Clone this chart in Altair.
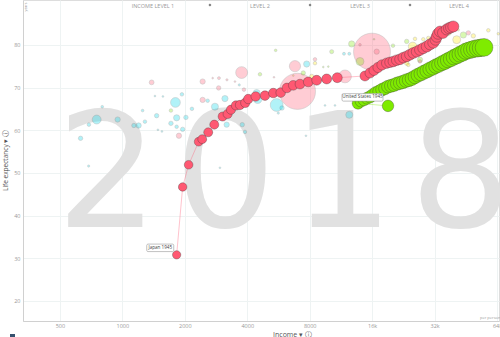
import altair as alt
import pandas as pd

# ---------------- data ----------------
# Japan trail 1945 -> 2018 (income per person, life expectancy, population in millions)
jp_income = [1827, 1953, 2087, 2333, 2427, 2594, 2774, 3044, 3218, 3339, 3529, 3689, 3913, 4045,
             4392, 4870, 5340, 5797, 6216, 6667, 7182, 7874, 8645, 9660, 10866, 14776, 15625,
             16335, 17075, 17850, 18806, 19506, 20236, 21014, 21800, 22613, 23475, 24355, 25265,
             26240, 27210, 28230, 29325, 30420, 31550, 32335, 32765, 33240, 33990, 35140, 36600,
             37550, 38400, 39400]
jp_life = [30.8, 46.7, 51.9, 57.3, 57.9, 59.5, 61.3, 63.2, 63.8, 64.8, 65.8, 65.9, 66.4, 67.3,
           67.9, 68.1, 68.7, 68.8, 69.9, 70.5, 70.8, 71.3, 71.7, 72.0, 72.3, 72.7, 73.4, 74.0,
           74.7, 75.3, 75.7, 75.9, 76.1, 76.4, 76.6, 77.0, 77.3, 77.7, 78.1, 78.4, 78.8, 79.2,
           79.6, 80.1, 80.5, 81.2, 81.9, 82.6, 83.1, 82.8, 83.6, 83.9, 84.1, 84.3]
jp_pop = [72, 75, 78, 80, 82, 84, 85, 86, 87, 88, 89, 90, 91, 92, 93, 94, 95, 96, 97, 98, 99,
          100, 101, 102, 103, 104, 105, 107, 109, 111, 113, 115, 116, 117, 118, 119, 120, 121,
          122, 123, 124, 125, 126, 126, 127, 127, 128, 128, 128, 128, 127, 127, 127, 127]

# United States trail 1945 -> 2018
us_income = [19080, 13673, 14137, 14620, 15115, 15625, 16150, 16700, 17265, 17850, 18455, 19080,
             19725, 20395, 21085, 21800, 22535, 23300, 24090, 24905, 25745, 26615, 27515, 28460,
             29425, 30420, 31445, 32510, 33610, 34750, 35925, 37140, 38395, 39695, 41040, 42435,
             43865, 45350, 46885, 48475, 50100, 51850, 53600, 55400]
us_life = [65.7, 66.3, 66.8, 67.1, 67.5, 67.8, 68.3, 68.8, 69.1, 69.5, 69.8, 70.2, 70.4, 70.6,
           70.9, 71.1, 71.3, 71.6, 71.8, 72.1, 72.5, 72.9, 73.2, 73.6, 73.9, 74.3, 74.6, 75.0,
           75.3, 75.7, 76.0, 76.4, 76.7, 77.1, 77.4, 77.8, 78.1, 78.5, 78.7, 78.9, 79.1, 79.2,
           79.3, 79.4]
us_pop = [140, 141, 144, 147, 150, 153, 156, 159, 162, 165, 168, 171, 174, 177, 180, 183, 186,
          189, 192, 195, 198, 201, 204, 207, 210, 214, 218, 222, 226, 230, 236, 242, 248, 254,
          260, 267, 274, 282, 290, 298, 306, 314, 321, 327]

# other countries in 2018 (faded)
bg_region = (["africa"] * 43 + ["asia"] * 21 + ["americas"] * 14 + ["europe"] * 17)
bg_income = [752, 690, 800, 949, 629, 688, 1137, 1198, 1285, 1252, 1436, 1569, 1803, 1937, 1463,
             1827, 1715, 2025, 2165, 1484, 1552, 1827, 1953, 2578, 2795, 3123, 3183, 3784, 3899,
             2954, 7675, 9481, 10592, 12415, 5544, 5882, 5645, 4490, 3661, 7737, 11705, 12415, 4441,
             1384, 2438, 2438, 2725, 2922, 2912, 3193, 3490, 3856, 3758, 1874, 5382, 6793, 6986,
             15975, 8484, 11835, 16827, 27210, 46525, 13980,
             1715, 4607, 5483, 7450, 9304, 10212, 12747, 16335, 20168, 23475, 44023, 27210, 9835, 13980,
             8484, 8180, 6667, 7590, 19506, 23475, 23900, 25100, 25745, 28230, 37140, 40900, 49185,
             58100, 64900, 41650, 29840]
bg_life = [62.5, 61.3, 65.5, 62.5, 58.1, 51.6, 61.1, 61.1, 62.0, 64.6, 68.0, 67.9, 66.5, 68.4, 63.4,
           62.9, 61.6, 63.0, 65.0, 60.1, 59.7, 60.8, 60.2, 66.9, 65.5, 67.4, 61.3, 61.3, 59.6,
           51.2, 58.7, 65.8, 65.8, 63.6, 65.9, 65.2, 64.0, 67.3, 70.6, 75.5, 77.9, 77.9, 68.7,
           71.2, 71.4, 67.1, 72.2, 72.2, 69.9, 71.8, 71.4, 69.5, 73.5, 58.7, 72.4, 75.0, 69.1,
           78.4, 76.6, 72.6, 78.4, 76.1, 82.8, 80.0,
           64.6, 73.1, 78.7, 73.4, 74.8, 78.4, 80.2, 81.3, 79.8, 80.8, 82.3, 76.5, 74.9, 76.1,
           75.7, 72.6, 72.8, 71.8, 76.5, 75.7, 75.3, 79.6, 81.4, 81.3, 83.0, 81.2, 82.1,
           83.4, 82.6, 83.5, 81.6]
bg_pop = [82, 13, 7, 29, 20, 5, 20, 29, 13, 7, 3, 3, 99, 13, 20,
          40, 20, 20, 13, 3, 3, 13, 20, 13, 52, 40, 29, 20, 13,
          3, 3, 3, 3, 52, 170, 20, 5, 81, 5, 40, 9, 9, 52,
          24, 29, 29, 3, 9, 20, 5, 3, 13, 146, 29, 3, 130, 1350,
          1415, 13, 170, 29, 13, 20, 7,
          13, 13, 7, 20, 3, 17, 40, 3, 13, 20, 40, 29, 3, 66,
          13, 20, 3, 7, 20, 20, 13, 81, 13, 13, 52, 66, 20,
          13, 7, 5, 13]

x_ticks = [500, 1000, 2000, 4000, 8000, 16000, 32000, 64000]
y_ticks = [20, 30, 40, 50, 60, 70, 80]
level_names = ["INCOME LEVEL 1", "LEVEL 2", "LEVEL 3", "LEVEL 4"]
level_centers = [1404, 4607, 13980, 41970]
level_bounds = [2644, 8030, 24355]

regions = ["africa", "americas", "asia", "europe"]
region_colors = ["#00d5e9", "#7feb00", "#ff5872", "#ffe700"]

# ---------------- tables ----------------
jp = pd.DataFrame({"income": jp_income, "life": jp_life, "pop": jp_pop,
                   "region": "asia", "idx": list(range(len(jp_income)))})
us = pd.DataFrame({"income": us_income, "life": us_life, "pop": us_pop,
                   "region": "americas", "idx": list(range(len(us_income)))})
bg = pd.DataFrame({"income": bg_income, "life": bg_life, "pop": bg_pop, "region": bg_region})
levels = pd.DataFrame({"income": level_centers, "name": level_names})
bounds = pd.DataFrame({"income": level_bounds})
labels = pd.DataFrame({"income": [jp_income[0], us_income[0]],
                       "life": [jp_life[0], us_life[0]],
                       "text": ["Japan 1945", "United States 1945"]})

FONT = "Open Sans"
xscale = alt.Scale(type="log", domain=[332, 65400], nice=False, zero=False)
yscale = alt.Scale(domain=[15.3, 90.5], nice=False, zero=False)
size_scale = alt.Scale(domain=[0, 1400], range=[0, 1350])
color_scale = alt.Scale(domain=regions, range=region_colors)

x_enc = alt.X("income:Q", scale=xscale,
              axis=alt.Axis(values=x_ticks, title="Income ▾ ⓘ",
                            labelExpr="datum.value >= 16000 ? format(datum.value/1000, 'd') + 'k' : format(datum.value, 'd')",
                            labelFontSize=5.5, labelColor="#999", labelFont=FONT, ticks=False,
                            domainColor="#d0d0d0", gridColor="#eef3f3", labelPadding=2,
                            titleFontSize=7, titleColor="#555", titleFont=FONT,
                            titleFontWeight="normal", titleX=269, titleY=13,
                            titleBaseline="middle", titleAlign="center"))
y_enc = alt.Y("life:Q", scale=yscale,
              axis=alt.Axis(values=y_ticks, title="Life expectancy ▾ ⓘ",
                            labelFontSize=5.5, labelColor="#999", labelFont=FONT, ticks=False,
                            domainColor="#d0d0d0", gridColor="#eef3f3", labelPadding=3,
                            titleFontSize=6.5, titleColor="#555", titleFont=FONT,
                            titleFontWeight="normal", titleX=-18, titleY=160,
                            titleBaseline="middle", titleAlign="center"))

watermark = alt.Chart(pd.DataFrame({"t": ["2\u200a0\u200a1\u200a8"]})).mark_text(
    font="DejaVu Sans", fontSize=160, color="#e1e1e1", align="center", baseline="alphabetic"
).encode(x=alt.value(261), y=alt.value(227), text="t:N")

base_axes = alt.Chart(bg).mark_circle(opacity=0).encode(x=x_enc, y=y_enc)

faded = alt.Chart(bg).mark_circle(opacity=0.3, stroke="#333", strokeWidth=0.5).encode(
    x=alt.X("income:Q", scale=xscale), y=alt.Y("life:Q", scale=yscale),
    size=alt.Size("pop:Q", scale=size_scale, legend=None),
    color=alt.Color("region:N", scale=color_scale, legend=None),
    order=alt.Order("pop:Q", sort="descending"))

def trail(df):
    line = alt.Chart(df).mark_line(strokeWidth=0.8, opacity=0.45).encode(
        x=alt.X("income:Q", scale=xscale), y=alt.Y("life:Q", scale=yscale),
        color=alt.Color("region:N", scale=color_scale, legend=None),
        order="idx:Q")
    dots = alt.Chart(df).mark_circle(opacity=1, stroke="#333", strokeWidth=0.6,
                                     strokeOpacity=0.55).encode(
        x=alt.X("income:Q", scale=xscale), y=alt.Y("life:Q", scale=yscale),
        size=alt.Size("pop:Q", scale=size_scale, legend=None),
        color=alt.Color("region:N", scale=color_scale, legend=None),
        order="idx:Q")
    return line + dots

jp_box = alt.Chart(labels.iloc[[0]]).mark_rect(
    width=27, height=7.5, xOffset=-16.4, yOffset=-7, fill="white", stroke="#999",
    strokeWidth=0.6, cornerRadius=1.2).encode(
    x=alt.X("income:Q", scale=xscale), y=alt.Y("life:Q", scale=yscale))
jp_txt = alt.Chart(labels.iloc[[0]]).mark_text(
    fontSize=4.6, color="#444", font=FONT, dx=-16.4, dy=-7, baseline="middle").encode(
    x=alt.X("income:Q", scale=xscale), y=alt.Y("life:Q", scale=yscale), text="text:N")
us_box = alt.Chart(labels.iloc[[1]]).mark_rect(
    width=41, height=7.5, xOffset=-25.5, yOffset=-8.5, fill="white", stroke="#999",
    strokeWidth=0.6, cornerRadius=1.2).encode(
    x=alt.X("income:Q", scale=xscale), y=alt.Y("life:Q", scale=yscale))
us_txt = alt.Chart(labels.iloc[[1]]).mark_text(
    fontSize=4.6, color="#444", font=FONT, dx=-25.5, dy=-8.5, baseline="middle").encode(
    x=alt.X("income:Q", scale=xscale), y=alt.Y("life:Q", scale=yscale), text="text:N")

level_txt = alt.Chart(levels).mark_text(fontSize=5.5, color="#999", font=FONT,
                                        baseline="middle").encode(
    x=alt.X("income:Q", scale=xscale), y=alt.value(6), text="name:N")
level_marks = alt.Chart(bounds).mark_point(shape="diamond", filled=True, size=9,
                                           color="#777", opacity=1).encode(
    x=alt.X("income:Q", scale=xscale), y=alt.value(5))

years_txt = alt.Chart(pd.DataFrame({"t": ["years"]})).mark_text(
    fontSize=3.5, color="#999", font=FONT, angle=270, baseline="middle").encode(
    x=alt.value(3), y=alt.value(7), text="t:N")
unit_txt = alt.Chart(pd.DataFrame({"t": ["per person (GDP/capita, PPP$ inflation-adjusted)"]})).mark_text(
    fontSize=4, color="#999", font=FONT, align="left", baseline="middle").encode(
    x=alt.value(457), y=alt.value(318), text="t:N")
logo = alt.Chart(pd.DataFrame({"a": [0]})).mark_rect(color="#35516e").encode(
    x=alt.value(-13), x2=alt.value(-8), y=alt.value(334), y2=alt.value(340))

chart = alt.layer(
    watermark, base_axes, faded, trail(jp), trail(us),
    jp_box, jp_txt, us_box, us_txt, level_txt, level_marks, years_txt, unit_txt, logo
).properties(
    width=476, height=321, autosize="none",
    padding={"left": 23, "top": 0, "right": 1, "bottom": 16}
).configure_view(stroke=None).configure(background="white")

chart.save("out.html", embed_options={"renderer": "svg", "actions": False})
